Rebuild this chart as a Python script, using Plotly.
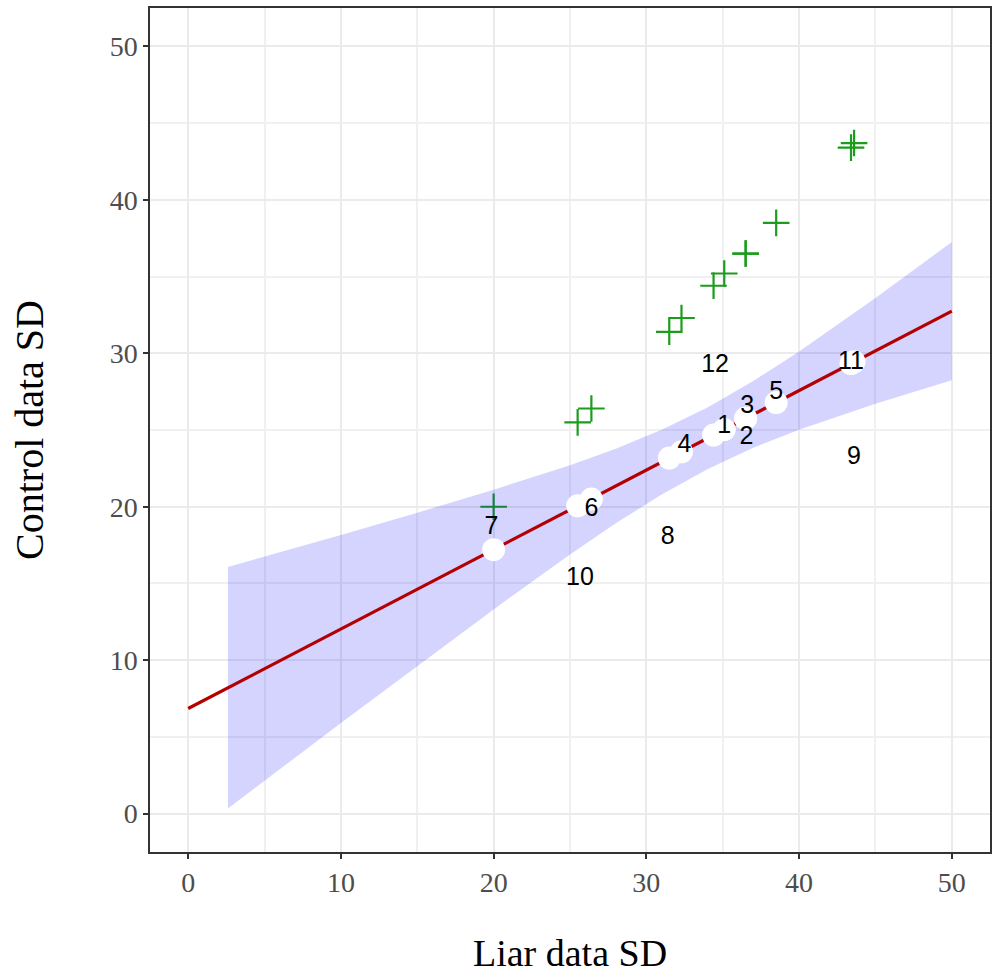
import plotly.graph_objects as go

# ---- data ----
liar_sd = [20.0, 25.5, 26.4, 31.5, 32.3, 34.4, 35.1, 36.5, 36.5, 38.5, 43.4, 43.6]
control_sd = [20.0, 25.5, 26.4, 31.4, 32.3, 34.4, 35.2, 36.5, 36.5, 38.5, 43.4, 43.7]

fitted_sd = [17.2, 20.06, 20.5, 23.17, 23.58, 24.67, 25.03, 25.76, 25.76, 26.79, 29.33, 29.44]

label_text = ["7", "10", "6", "8", "4", "12", "1", "2", "3", "5", "9", "11"]
label_x = [19.85, 25.65, 26.4, 31.4, 32.5, 34.5, 35.1, 36.55, 36.6, 38.5, 43.6, 43.4]
label_y = [18.6, 15.3, 19.8, 18.0, 24.0, 29.2, 25.2, 24.5, 26.5, 27.4, 23.2, 29.4]

line_x = [0, 50]
line_y = [6.85, 32.75]

band_x = [2.6, 5, 10, 15, 20, 25, 28, 31, 34, 37, 40, 45, 50]
band_upper = [16.07, 16.74, 18.16, 19.61, 21.11, 22.71, 23.78, 25.02, 26.47, 28.19, 30.12, 33.61, 37.25]
band_lower = [0.33, 2.14, 5.90, 9.63, 13.31, 16.89, 18.92, 20.80, 22.45, 23.85, 25.02, 26.71, 28.25]

x_ticks = [0, 10, 20, 30, 40, 50]
y_ticks = [0, 10, 20, 30, 40, 50]

fig = go.Figure()

# green pluses
fig.add_trace(go.Scatter(
    x=liar_sd, y=control_sd, mode="markers",
    marker=dict(symbol="cross-thin", size=19, color="#1c9c1c",
                line=dict(width=2.2, color="#1c9c1c")),
    hoverinfo="skip", showlegend=False))

# confidence band
fig.add_trace(go.Scatter(
    x=band_x + band_x[::-1], y=band_upper + band_lower[::-1],
    fill="toself", fillcolor="rgba(0,0,255,0.17)", mode="lines",
    line=dict(width=0, color="rgba(0,0,0,0)"),
    hoverinfo="skip", showlegend=False))

# regression line
fig.add_trace(go.Scatter(
    x=line_x, y=line_y, mode="lines",
    line=dict(color="#b40000", width=3.2),
    hoverinfo="skip", showlegend=False))

# white fitted points
fig.add_trace(go.Scatter(
    x=liar_sd, y=fitted_sd, mode="markers",
    marker=dict(symbol="circle", size=23, color="white", line=dict(width=0)),
    hoverinfo="skip", showlegend=False))

# number labels
fig.add_trace(go.Scatter(
    x=label_x, y=label_y, mode="text", text=label_text,
    textposition="middle center",
    textfont=dict(family="Liberation Sans, Arial, sans-serif", size=25, color="black"),
    hoverinfo="skip", showlegend=False))

axis_common = dict(
    range=[-2.5, 52.5],
    showline=True, mirror=True, linecolor="#333333", linewidth=1.5,
    ticks="outside", ticklen=5, tickcolor="#333333", tickwidth=1.5,
    showgrid=True, gridcolor="#ebebeb", gridwidth=2,
    zeroline=False,
    minor=dict(dtick=5, showgrid=True, gridcolor="#f0f0f0", gridwidth=1.5),
    tickfont=dict(family="Liberation Serif, Times New Roman, serif", size=28, color="#4d4d4d"),
)

fig.update_layout(
    width=997, height=976,
    paper_bgcolor="white", plot_bgcolor="white",
    margin=dict(l=150, r=7, t=8, b=124, autoexpand=False),
    xaxis=dict(**axis_common, tickvals=x_ticks,
               title=dict(text="Liar data SD", standoff=42,
                          font=dict(family="Liberation Serif, Times New Roman, serif", size=38, color="black"))),
    yaxis=dict(**axis_common, tickvals=y_ticks,
               title=dict(text="Control data SD", standoff=54,
                          font=dict(family="Liberation Serif, Times New Roman, serif", size=40, color="black"))),
)

fig.write_html("out.html",
               config={"displayModeBar": False},
               post_script="document.body.style.margin='0';document.body.style.padding='0';document.body.style.overflow='hidden';")
